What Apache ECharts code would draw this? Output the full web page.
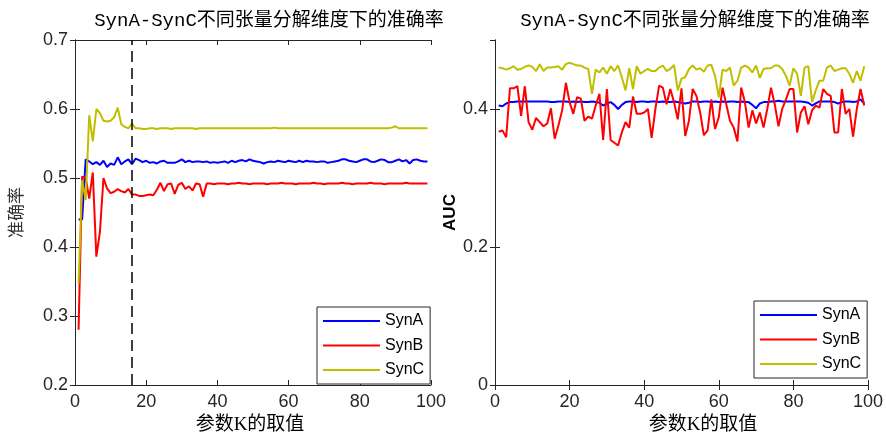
<!DOCTYPE html>
<html><head><meta charset="utf-8">
<script src="https://cdn.jsdelivr.net/npm/echarts@6/dist/echarts.min.js"></script>
<style>html,body{margin:0;padding:0;background:#fff}#c{width:886px;height:440px}</style>
</head><body><div id="c"></div>
<script>
// ---- data ----
const K = [1,2,3,4,5,6,7,8,9,10,11,12,13,14,15,16,17,18,19,20,21,22,23,24,25,26,27,28,29,30,
31,32,33,34,35,36,37,38,39,40,41,42,43,44,45,46,47,48,49,50,51,52,53,54,55,56,57,58,59,60,
61,62,63,64,65,66,67,68,69,70,71,72,73,74,75,76,77,78,79,80,81,82,83,84,85,86,87,88,89,90,
91,92,93,94,95,96,97,98,99];
const seriesNames = ['SynA','SynB','SynC'];
const accSynA = [0.440,0.440,0.527,0.524,0.520,0.523,0.519,0.525,0.516,0.521,
0.519,0.530,0.520,0.524,0.527,0.520,0.528,0.526,0.523,0.525,
0.522,0.523,0.521,0.524,0.525,0.522,0.522,0.522,0.524,0.527,
0.523,0.525,0.523,0.524,0.524,0.523,0.524,0.522,0.523,0.522,
0.523,0.524,0.522,0.525,0.523,0.525,0.526,0.524,0.527,0.525,
0.524,0.523,0.521,0.523,0.524,0.523,0.525,0.524,0.523,0.525,
0.524,0.523,0.525,0.523,0.525,0.524,0.524,0.523,0.524,0.524,
0.522,0.523,0.524,0.525,0.527,0.527,0.525,0.524,0.523,0.525,
0.527,0.527,0.524,0.523,0.525,0.527,0.526,0.523,0.523,0.525,
0.527,0.524,0.526,0.521,0.526,0.527,0.525,0.524,0.524];
const accSynB = [0.280,0.502,0.500,0.470,0.508,0.386,0.422,0.500,0.485,0.478,
0.480,0.484,0.481,0.479,0.484,0.476,0.476,0.474,0.474,0.475,
0.476,0.475,0.483,0.493,0.481,0.491,0.492,0.477,0.490,0.493,
0.484,0.488,0.482,0.492,0.491,0.473,0.492,0.492,0.491,0.492,
0.492,0.492,0.491,0.492,0.492,0.493,0.492,0.492,0.491,0.492,
0.492,0.492,0.492,0.491,0.492,0.492,0.492,0.493,0.492,0.492,
0.492,0.491,0.492,0.492,0.492,0.492,0.493,0.492,0.492,0.491,
0.492,0.492,0.492,0.492,0.493,0.492,0.492,0.491,0.492,0.492,
0.492,0.492,0.493,0.492,0.492,0.492,0.491,0.492,0.492,0.492,
0.492,0.492,0.493,0.492,0.492,0.492,0.492,0.492,0.492];
const accSynC = [0.347,0.497,0.468,0.591,0.553,0.600,0.594,0.583,0.582,0.583,
0.588,0.602,0.578,0.574,0.572,0.579,0.572,0.572,0.571,0.571,
0.572,0.572,0.571,0.572,0.572,0.572,0.571,0.572,0.572,0.572,
0.572,0.572,0.572,0.571,0.572,0.572,0.572,0.572,0.572,0.572,
0.572,0.572,0.572,0.572,0.572,0.572,0.572,0.572,0.572,0.572,
0.572,0.572,0.572,0.572,0.572,0.573,0.572,0.572,0.572,0.572,
0.572,0.572,0.572,0.572,0.572,0.572,0.572,0.572,0.572,0.572,
0.572,0.572,0.572,0.572,0.572,0.572,0.572,0.572,0.572,0.572,
0.572,0.572,0.572,0.572,0.572,0.572,0.572,0.572,0.573,0.575,
0.572,0.572,0.572,0.572,0.572,0.572,0.572,0.572,0.572];
const aucSynA = [0.405,0.404,0.408,0.410,0.410,0.411,0.411,0.411,0.411,0.411,
0.411,0.411,0.411,0.411,0.410,0.410,0.411,0.411,0.411,0.410,
0.411,0.410,0.411,0.410,0.410,0.411,0.410,0.409,0.405,0.408,
0.410,0.406,0.400,0.406,0.410,0.411,0.411,0.410,0.411,0.411,
0.410,0.411,0.411,0.410,0.411,0.410,0.410,0.411,0.410,0.409,
0.408,0.409,0.411,0.411,0.410,0.411,0.411,0.410,0.411,0.410,
0.411,0.410,0.411,0.411,0.410,0.411,0.410,0.410,0.406,0.401,
0.408,0.410,0.410,0.411,0.411,0.412,0.411,0.411,0.411,0.411,
0.411,0.411,0.410,0.409,0.405,0.408,0.411,0.411,0.411,0.411,
0.410,0.408,0.410,0.411,0.411,0.410,0.411,0.414,0.408];
const aucSynB = [0.367,0.369,0.359,0.430,0.430,0.433,0.390,0.433,0.381,0.370,
0.387,0.381,0.375,0.379,0.401,0.357,0.376,0.398,0.438,0.410,
0.393,0.417,0.415,0.383,0.389,0.386,0.405,0.422,0.355,0.429,
0.355,0.351,0.347,0.366,0.381,0.373,0.418,0.393,0.393,0.395,
0.400,0.358,0.400,0.434,0.431,0.407,0.429,0.410,0.385,0.430,
0.361,0.383,0.429,0.419,0.395,0.362,0.369,0.414,0.371,0.388,
0.431,0.407,0.383,0.373,0.353,0.431,0.410,0.373,0.398,0.379,
0.395,0.373,0.400,0.431,0.407,0.375,0.400,0.414,0.429,0.429,
0.366,0.395,0.404,0.378,0.398,0.405,0.402,0.429,0.422,0.419,
0.366,0.366,0.429,0.393,0.400,0.360,0.400,0.429,0.405];
const aucSynC = [0.460,0.459,0.457,0.459,0.462,0.457,0.458,0.461,0.463,0.461,
0.455,0.465,0.455,0.460,0.460,0.461,0.462,0.457,0.465,0.467,
0.465,0.463,0.463,0.460,0.458,0.422,0.457,0.453,0.460,0.451,
0.462,0.455,0.463,0.446,0.427,0.459,0.429,0.462,0.451,0.455,
0.458,0.455,0.455,0.460,0.463,0.455,0.458,0.464,0.427,0.444,
0.446,0.458,0.463,0.457,0.459,0.454,0.463,0.464,0.448,0.417,
0.457,0.455,0.460,0.434,0.441,0.460,0.463,0.460,0.453,0.463,
0.445,0.458,0.459,0.459,0.463,0.463,0.458,0.448,0.434,0.459,
0.451,0.419,0.460,0.462,0.410,0.427,0.441,0.441,0.460,0.463,
0.455,0.457,0.459,0.459,0.451,0.438,0.455,0.441,0.462];
const dashK = 16;
const chartTitle = 'SynA-SynC不同张量分解维度下的准确率';
const xLabel = '参数K的取值';
const yLabelAcc = '准确率';
const yLabelAuc = 'AUC';
const xTicks = {min: 0, max: 100, interval: 20};
const accTicks = {min: 0.2, max: 0.7, interval: 0.1};
const aucTicks = {min: 0, max: 0.5, interval: 0.2};

// ---- chart ----
const colors = ['#0000ff', '#ff0000', '#bfbf00'];
const axisColor = '#262626';
const chart = echarts.init(document.getElementById('c'), null, {renderer: 'canvas'});
const pairs = vals => K.map((k, i) => [k, vals[i]]);
const grids = [
  {left: 75, top: 40, width: 356, height: 345},
  {left: 495, top: 40, width: 375, height: 345}
];
const lbl = {color: axisColor, fontFamily: 'Liberation Sans, Arial', fontSize: 18};
function xAxes(g) {
  return [
    Object.assign({type: 'value', gridIndex: g, position: 'bottom',
      axisLine: {show: true, lineStyle: {color: axisColor, width: 1}},
      axisTick: {show: true, inside: true, length: 5, lineStyle: {color: axisColor}},
      axisLabel: Object.assign({margin: 8}, lbl),
      splitLine: {show: false}}, xTicks),
    Object.assign({type: 'value', gridIndex: g, position: 'top',
      axisLine: {show: true, lineStyle: {color: axisColor, width: 1}},
      axisTick: {show: true, inside: true, length: 5, lineStyle: {color: axisColor}},
      axisLabel: {show: false}, splitLine: {show: false}}, xTicks)
  ];
}
function yAxes(g, ticks, name, nameStyle, gap, fmt) {
  return [
    Object.assign({type: 'value', gridIndex: g, position: 'left',
      name: name, nameLocation: 'middle', nameGap: gap, nameTextStyle: nameStyle,
      axisLine: {show: true, lineStyle: {color: axisColor, width: 1}},
      axisTick: {show: true, inside: true, length: 5, lineStyle: {color: axisColor}},
      axisLabel: Object.assign({margin: 7, formatter: fmt, showMaxLabel: g === 0}, lbl),
      splitLine: {show: false}}, ticks),
    Object.assign({type: 'value', gridIndex: g, position: 'right',
      axisLine: {show: true, lineStyle: {color: axisColor, width: 1}},
      axisTick: {show: true, inside: true, length: 5, lineStyle: {color: axisColor}},
      axisLabel: {show: false}, splitLine: {show: false}}, ticks)
  ];
}
function lineSeries(name, vals, xi, yi, color, extra) {
  return Object.assign({name: name, type: 'line', xAxisIndex: xi, yAxisIndex: yi,
    data: pairs(vals), symbol: 'none', showSymbol: false, animation: false,
    lineStyle: {color: color, width: 2}, itemStyle: {color: color}}, extra || {});
}
const lineIcon = 'path://M0,0L57,0L57,2L0,2Z';
function legend(left, top) {
  return {show: true, orient: 'vertical', left: left, top: top, padding: [6, 6, 6, 6],
    itemWidth: 57, itemHeight: 14, itemGap: 8.5, selectedMode: false,
    symbolKeepAspect: true,
    backgroundColor: '#fff', borderColor: axisColor, borderWidth: 1, borderRadius: 0,
    textStyle: {color: '#000', fontFamily: 'Liberation Sans, Arial', fontSize: 16},
    data: seriesNames.map(n => ({name: n, icon: lineIcon}))};
}
const titleFont = {color: '#000', fontSize: 19, fontWeight: 'normal',
  fontFamily: 'Liberation Mono, Noto Sans CJK SC', lineHeight: 22};
const xNameFont = {color: '#000', fontSize: 19, fontWeight: 'normal',
  fontFamily: 'Liberation Serif, Noto Sans CJK SC', lineHeight: 22};

const option = {
  backgroundColor: '#fff',
  animation: false,
  title: [
    {text: chartTitle, left: 269, top: 10, textAlign: 'center', padding: 0, textStyle: titleFont},
    {text: chartTitle, left: 695, top: 10, textAlign: 'center', padding: 0, textStyle: titleFont},
    {text: xLabel, left: 250, top: 414, textAlign: 'center', padding: 0, textStyle: xNameFont},
    {text: xLabel, left: 703, top: 414, textAlign: 'center', padding: 0, textStyle: xNameFont}
  ],
  legend: [legend(317, 307), legend(754, 301)],
  grid: grids,
  xAxis: xAxes(0).concat(xAxes(1)),
  yAxis: yAxes(0, accTicks, yLabelAcc,
      {color: '#333', fontSize: 17, fontFamily: 'Noto Sans CJK SC'}, 51,
      v => v.toFixed(1))
    .concat(yAxes(1, aucTicks, yLabelAuc,
      {color: '#000', fontSize: 17, fontWeight: 'bold', fontFamily: 'Liberation Sans, Arial'}, 29,
      v => (v === 0 ? '0' : v.toFixed(1)))),
  series: [
    lineSeries(seriesNames[0], accSynA, 0, 0, colors[0], {
      markLine: {silent: true, symbol: ['none', 'none'], animation: false,
        label: {show: false},
        lineStyle: {color: '#000', type: [11, 6], width: 1.5},
        data: [{xAxis: dashK}]}
    }),
    lineSeries(seriesNames[1], accSynB, 0, 0, colors[1]),
    lineSeries(seriesNames[2], accSynC, 0, 0, colors[2]),
    lineSeries(seriesNames[0], aucSynA, 2, 2, colors[0]),
    lineSeries(seriesNames[1], aucSynB, 2, 2, colors[1]),
    lineSeries(seriesNames[2], aucSynC, 2, 2, colors[2])
  ]
};
chart.setOption(option);
</script></body></html>
